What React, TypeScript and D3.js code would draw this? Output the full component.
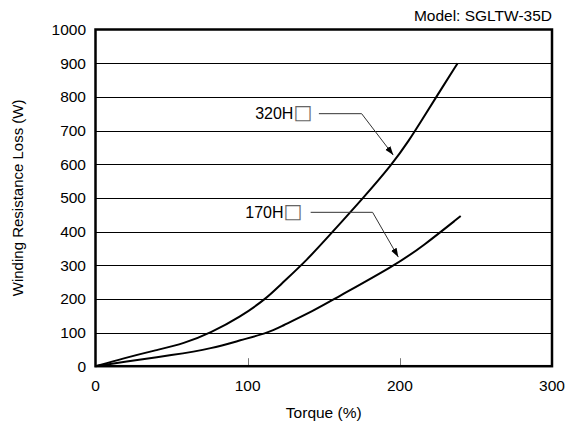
import React from "react";
import * as d3 from "d3";

const W = 569;
const H = 423;

const xTicks = [0, 100, 200, 300];
const yTicks = [0, 100, 200, 300, 400, 500, 600, 700, 800, 900, 1000];

const torque320 = [0, 18, 40, 58, 76, 95, 112, 121, 139, 156, 176, 195, 206, 215, 224, 238];
const loss320 = [0, 23, 48, 67, 100, 146, 200, 240, 315, 400, 500, 600, 670, 735, 800, 900];

const torque170 = [0, 18, 51, 77, 95, 114, 121, 144, 157, 197, 215, 240];
const loss170 = [0, 13, 33, 53, 77, 100, 116, 166, 200, 300, 356, 446];

const seriesNames = ["320H", "170H"];
const boxGlyph = "□";
// annotation anchors in data units
const annoLabelX = [142.5, 136];
const annoLabelY = [750, 457];
const annoStartX = [146.8, 141.4];
const annoElbowX = [174.9, 182.1];
const annoTipX = [195.7, 199];
const annoTipY = [627, 324];

const title = "Model: SGLTW-35D";
const xTitle = "Torque (%)";
const yTitle = "Winding Resistance Loss (W)";

const FONT = "'Liberation Sans', Arial, Helvetica, sans-serif";

export default function App() {
  const x = d3.scaleLinear().domain([0, 300]).range([95.5, 552]);
  const y = d3.scaleLinear().domain([0, 1000]).range([366.2, 29.5]);

  const line = d3
    .line<[number, number]>()
    .x((d) => x(d[0]))
    .y((d) => y(d[1]))
    .curve(d3.curveBasis);

  const s320 = torque320.map((t, i) => [t, loss320[i]] as [number, number]);
  const s170 = torque170.map((t, i) => [t, loss170[i]] as [number, number]);

  const left = x(0);
  const right = x(300);
  const top = y(1000);
  const bottom = y(0);

  return (
    <svg
      width={W}
      height={H}
      style={{ position: "absolute", left: 0, top: 0, background: "#fff" }}
      fontFamily={FONT}
    >
      <defs>
        <marker
          id="arrow"
          viewBox="0 0 10 10"
          refX="10"
          refY="5"
          markerWidth="9"
          markerHeight="9"
          markerUnits="userSpaceOnUse"
          orient="auto"
        >
          <path d="M0,1.5 L10,5 L0,8.5 z" fill="#000" />
        </marker>
      </defs>
      <rect x={0} y={0} width={W} height={H} fill="#fff" />

      {/* gridlines */}
      {yTicks.slice(1, -1).map((v) => (
        <line
          key={"g" + v}
          x1={left}
          x2={right}
          y1={Math.round(y(v)) + 0.5}
          y2={Math.round(y(v)) + 0.5}
          stroke="#000"
          strokeWidth={1}
          shapeRendering="crispEdges"
        />
      ))}

      {/* x inner ticks */}
      {xTicks.slice(1, -1).map((v) => (
        <line
          key={"xt" + v}
          x1={Math.round(x(v)) + 0.5}
          x2={Math.round(x(v)) + 0.5}
          y1={bottom}
          y2={bottom - 8}
          stroke="#777"
          strokeWidth={1}
        />
      ))}

      {/* curves */}
      <path d={line(s320) || ""} fill="none" stroke="#000" strokeWidth={2} />
      <path d={line(s170) || ""} fill="none" stroke="#000" strokeWidth={2} />

      {/* frame */}
      <rect
        x={left}
        y={top}
        width={right - left}
        height={bottom - top}
        fill="none"
        stroke="#000"
        strokeWidth={2.5}
      />

      {/* y tick labels */}
      {yTicks.map((v) => (
        <text
          key={"yl" + v}
          x={86}
          y={y(v)}
          dy="0.36em"
          textAnchor="end"
          fontSize={15.5}
          fill="#000"
        >
          {v}
        </text>
      ))}

      {/* x tick labels */}
      {xTicks.map((v) => (
        <text
          key={"xl" + v}
          x={x(v)}
          y={391}
          textAnchor="middle"
          fontSize={15.5}
          fill="#000"
        >
          {v}
        </text>
      ))}

      {/* annotations */}
      {seriesNames.map((lab, i) => (
        <g key={"a" + i}>
          <text
            x={x(annoLabelX[i])}
            y={y(annoLabelY[i])}
            dy="0.36em"
            textAnchor="end"
            fontSize={16}
            fill="#000"
          >
            {lab}
            <tspan fontSize={20} fill="#666" fontFamily="'DejaVu Sans', sans-serif">
              {boxGlyph}
            </tspan>
          </text>
          <polyline
            points={`${x(annoStartX[i])},${y(annoLabelY[i])} ${x(annoElbowX[i])},${y(
              annoLabelY[i]
            )} ${x(annoTipX[i])},${y(annoTipY[i])}`}
            fill="none"
            stroke="#333"
            strokeWidth={1}
            markerEnd="url(#arrow)"
          />
        </g>
      ))}

      {/* titles */}
      <text x={552} y={21} textAnchor="end" fontSize={15.5} fill="#000">
        {title}
      </text>
      <text x={x(150)} y={418} textAnchor="middle" fontSize={15.5} fill="#000">
        {xTitle}
      </text>
      <text
        transform={`translate(23,${(top + bottom) / 2}) rotate(-90)`}
        textAnchor="middle"
        fontSize={15}
        fill="#000"
      >
        {yTitle}
      </text>
    </svg>
  );
}
